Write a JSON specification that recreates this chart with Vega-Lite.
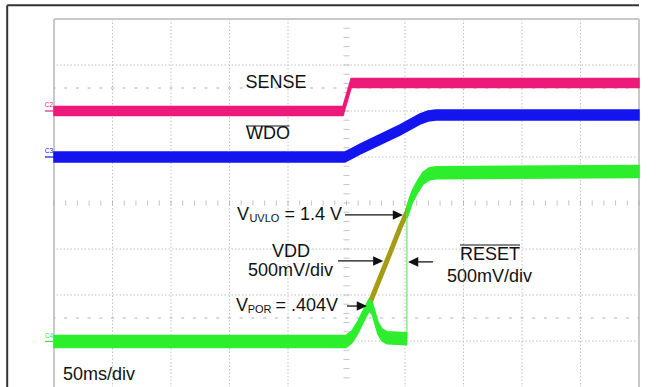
{
  "$schema": "https://vega.github.io/schema/vega-lite/v6.json",
  "width": 585,
  "height": 368,
  "autosize": {"type": "none"},
  "padding": {"left": 54, "top": 19, "right": 26, "bottom": 0},
  "background": "white",
  "config": {"view": {"stroke": null}, "text": {"font": "Liberation Sans"}},
  "datasets": {
    "frameH": [{"t": -290, "t2": 250, "v": 4.3}],
    "frameV": [{"t": -290, "v": 4.3, "v2": -4}],
    "borderV": [{"t": -250}, {"t": 250}],
    "borderH": [{"v": 4}],
    "vgrid": [{"t":-200},{"t":-150},{"t":-100},{"t":-50},{"t":50},{"t":100},{"t":150},{"t":200}],
    "hgrid": [{"v":-3},{"v":-2},{"v":-1},{"v":1},{"v":2},{"v":3}],
    "xticks": [{"t":-250},{"t":-240},{"t":-230},{"t":-220},{"t":-210},{"t":-200},{"t":-190},{"t":-180},{"t":-170},{"t":-160},{"t":-150},{"t":-140},{"t":-130},{"t":-120},{"t":-110},{"t":-100},{"t":-90},{"t":-80},{"t":-70},{"t":-60},{"t":-50},{"t":-40},{"t":-30},{"t":-20},{"t":-10},{"t":0},{"t":10},{"t":20},{"t":30},{"t":40},{"t":50},{"t":60},{"t":70},{"t":80},{"t":90},{"t":100},{"t":110},{"t":120},{"t":130},{"t":140},{"t":150},{"t":160},{"t":170},{"t":180},{"t":190},{"t":200},{"t":210},{"t":220},{"t":230},{"t":240},{"t":250}],
    "yticks": [{"v":-3.8},{"v":-3.6},{"v":-3.4},{"v":-3.2},{"v":-3},{"v":-2.8},{"v":-2.6},{"v":-2.4},{"v":-2.2},{"v":-2},{"v":-1.8},{"v":-1.6},{"v":-1.4},{"v":-1.2},{"v":-1},{"v":-0.8},{"v":-0.6},{"v":-0.4},{"v":-0.2},{"v":0},{"v":0.2},{"v":0.4},{"v":0.6},{"v":0.8},{"v":1},{"v":1.2},{"v":1.4},{"v":1.6},{"v":1.8},{"v":2},{"v":2.2},{"v":2.4},{"v":2.6},{"v":2.8},{"v":3},{"v":3.2},{"v":3.4},{"v":3.6},{"v":3.8}],
    "refs": [{"v": 2.5}, {"v": -2.5}],
    "sense": [{"t":-250,"v":2.0},{"t":-3,"v":2.0},{"t":4,"v":2.61},{"t":250,"v":2.61}],
    "wdo": [{"t":-250,"v":1.0},{"t":-1.3,"v":1.0},{"t":4.7,"v":1.08},{"t":11.5,"v":1.17},{"t":45.7,"v":1.587},{"t":62.8,"v":1.826},{"t":69.7,"v":1.89},{"t":76.5,"v":1.913},{"t":250,"v":1.913}],
    "vdd": [{"t":-250,"v":-3.01},{"t":-0.4,"v":-3.01},{"t":4.7,"v":-2.91},{"t":9.8,"v":-2.7},{"t":15.0,"v":-2.43},{"t":19.2,"v":-2.22},{"t":28.6,"v":-1.63},{"t":37.2,"v":-1.09},{"t":45.7,"v":-0.54},{"t":51.7,"v":-0.196},{"t":56.0,"v":0.13},{"t":61.1,"v":0.37},{"t":65.4,"v":0.54},{"t":70.5,"v":0.63},{"t":76.5,"v":0.66},{"t":250,"v":0.685}],
    "reset": [{"seg":1,"t":-250,"v":-3.01},{"seg":1,"t":-0.4,"v":-3.01},{"seg":1,"t":4.7,"v":-2.91},{"seg":1,"t":9.8,"v":-2.7},{"seg":1,"t":15.0,"v":-2.43},{"seg":1,"t":19.2,"v":-2.22},{"seg":1,"t":21.8,"v":-2.28},{"seg":1,"t":24.4,"v":-2.5},{"seg":1,"t":26.9,"v":-2.72},{"seg":1,"t":30.3,"v":-2.87},{"seg":1,"t":34.6,"v":-2.93},{"seg":1,"t":51.3,"v":-2.95},{"seg":2,"t":51.8,"v":-0.196},{"seg":2,"t":56.0,"v":0.13},{"seg":2,"t":61.1,"v":0.37},{"seg":2,"t":65.4,"v":0.54},{"seg":2,"t":70.5,"v":0.63},{"seg":2,"t":76.5,"v":0.66},{"seg":2,"t":250,"v":0.685}],
    "jump": [{"t": 51.6, "v": -2.95, "v2": -0.2}],
    "markers": [{"ch":"C2","t":-254.3,"v":2.14},{"ch":"C3","t":-254.3,"v":1.12},{"ch":"C4","t":-254.3,"v":-2.89}],
    "markerlines": [{"ch":"C2","t":-257.7,"t2":-250,"v":2.0},{"ch":"C3","t":-257.7,"t2":-250,"v":1.0},{"ch":"C4","t":-257.7,"t2":-250,"v":-3.01}],
    "shafts": [{"t":-1.3,"t2":40,"v":-0.26},{"t":-7.3,"t2":23,"v":-1.26},{"t":0.4,"t2":10,"v":-2.24},{"t":60,"t2":74,"v":-1.28}],
    "headsR": [{"t":48.3,"v":-0.26},{"t":31.5,"v":-1.26},{"t":17.5,"v":-2.24}],
    "headsL": [{"t":52.6,"v":-1.28}],
    "overlines": [{"t":-86,"t2":-48.7,"v":1.674},{"t":97,"t2":148.3,"v":-0.913}],
    "ctext": [{"label":"SENSE","t":-60.3,"v":2.61},{"label":"WDO","t":-67.1,"v":1.49},{"label":"VDD","t":-47.4,"v":-1.065},{"label":"500mV/div","t":-47.8,"v":-1.478},{"label":"RESET","t":122.6,"v":-1.13},{"label":"500mV/div","t":122.2,"v":-1.609}],
    "ltext": [{"label":"V","t":-93.6,"v":-0.26},{"label":"V","t":-94.4,"v":-2.24},{"label":"50ms/div","t":-242.3,"v":-3.74}],
    "subtext": [{"label":"UVLO","t":-83,"v":-0.35},{"label":"POR","t":-84.5,"v":-2.33}],
    "rtext": [{"label":"= 1.4 V","t":-3.8,"v":-0.26},{"label":"= .404V","t":-7.3,"v":-2.24}]
  },
  "layer": [
    {
      "data": {"name": "vgrid"},
      "mark": {"type": "rule", "color": "#c2c2c2", "strokeWidth": 1, "strokeDash": [1.5, 2]},
      "encoding": {"x": {"field": "t", "type": "quantitative", "scale": {"domain": [-250, 250], "nice": false, "zero": false}, "axis": null}}
    },
    {
      "data": {"name": "hgrid"},
      "mark": {"type": "rule", "color": "#c2c2c2", "strokeWidth": 1, "strokeDash": [1.5, 2]},
      "encoding": {"y": {"field": "v", "type": "quantitative", "scale": {"domain": [-4, 4], "nice": false, "zero": false}, "axis": null}}
    },
    {
      "data": {"name": "borderV"},
      "mark": {"type": "rule", "color": "#c9c9c9", "strokeWidth": 2},
      "encoding": {"x": {"field": "t", "type": "quantitative", "scale": {"domain": [-250, 250], "nice": false, "zero": false}, "axis": null}}
    },
    {
      "data": {"name": "borderH"},
      "mark": {"type": "rule", "color": "#c9c9c9", "strokeWidth": 2},
      "encoding": {"y": {"field": "v", "type": "quantitative", "scale": {"domain": [-4, 4], "nice": false, "zero": false}, "axis": null}}
    },
    {
      "data": {"name": "frameH"},
      "mark": {"type": "rule", "color": "#333333", "strokeWidth": 2, "clip": false},
      "encoding": {
        "x": {"field": "t", "type": "quantitative", "scale": {"domain": [-250, 250], "nice": false, "zero": false}, "axis": null},
        "x2": {"field": "t2"},
        "y": {"field": "v", "type": "quantitative", "scale": {"domain": [-4, 4], "nice": false, "zero": false}, "axis": null}
      }
    },
    {
      "data": {"name": "frameV"},
      "mark": {"type": "rule", "color": "#333333", "strokeWidth": 2, "clip": false},
      "encoding": {
        "x": {"field": "t", "type": "quantitative", "scale": {"domain": [-250, 250], "nice": false, "zero": false}, "axis": null},
        "y": {"field": "v", "type": "quantitative", "scale": {"domain": [-4, 4], "nice": false, "zero": false}, "axis": null},
        "y2": {"field": "v2"}
      }
    },
    {
      "data": {"name": "xticks"},
      "mark": {"type": "tick", "orient": "vertical", "size": 5, "thickness": 1, "color": "#aaaaaa"},
      "encoding": {
        "x": {"field": "t", "type": "quantitative", "scale": {"domain": [-250, 250], "nice": false, "zero": false}, "axis": null},
        "y": {"datum": 0, "type": "quantitative", "scale": {"domain": [-4, 4], "nice": false, "zero": false}, "axis": null}
      }
    },
    {
      "data": {"name": "yticks"},
      "mark": {"type": "tick", "orient": "horizontal", "size": 6, "thickness": 1, "color": "#aaaaaa"},
      "encoding": {
        "x": {"datum": 0, "type": "quantitative", "scale": {"domain": [-250, 250], "nice": false, "zero": false}, "axis": null},
        "y": {"field": "v", "type": "quantitative", "scale": {"domain": [-4, 4], "nice": false, "zero": false}, "axis": null}
      }
    },
    {
      "mark": {"type": "rule", "color": "#a8a8a8", "strokeWidth": 1},
      "encoding": {"x": {"datum": 0, "type": "quantitative", "scale": {"domain": [-250, 250], "nice": false, "zero": false}, "axis": null}}
    },
    {
      "mark": {"type": "rule", "color": "#a8a8a8", "strokeWidth": 1},
      "encoding": {"y": {"datum": 0, "type": "quantitative", "scale": {"domain": [-4, 4], "nice": false, "zero": false}, "axis": null}}
    },
    {
      "data": {"name": "refs"},
      "mark": {"type": "rule", "color": "#b0b0b0", "strokeWidth": 1, "strokeDash": [3, 8.7], "strokeDashOffset": -10.2},
      "encoding": {"y": {"field": "v", "type": "quantitative", "scale": {"domain": [-4, 4], "nice": false, "zero": false}, "axis": null}}
    },
    {
      "data": {"name": "vdd"},
      "mark": {"type": "line", "color": "#A69C14", "strokeWidth": 5},
      "encoding": {
        "x": {"field": "t", "type": "quantitative", "scale": {"domain": [-250, 250], "nice": false, "zero": false}, "axis": null},
        "y": {"field": "v", "type": "quantitative", "scale": {"domain": [-4, 4], "nice": false, "zero": false}, "axis": null}
      }
    },
    {
      "data": {"name": "sense"},
      "mark": {"type": "area", "color": "#EC1A78", "stroke": "#EC1A78", "strokeWidth": 1.5, "yOffset": -4.5, "y2Offset": 4.5},
      "encoding": {
        "x": {"field": "t", "type": "quantitative", "scale": {"domain": [-250, 250], "nice": false, "zero": false}, "axis": null},
        "y": {"field": "v", "type": "quantitative", "scale": {"domain": [-4, 4], "nice": false, "zero": false}, "axis": null},
        "y2": {"field": "v"}
      }
    },
    {
      "data": {"name": "wdo"},
      "mark": {"type": "area", "color": "#1414EE", "stroke": "#1414EE", "strokeWidth": 1.5, "yOffset": -5, "y2Offset": 5},
      "encoding": {
        "x": {"field": "t", "type": "quantitative", "scale": {"domain": [-250, 250], "nice": false, "zero": false}, "axis": null},
        "y": {"field": "v", "type": "quantitative", "scale": {"domain": [-4, 4], "nice": false, "zero": false}, "axis": null},
        "y2": {"field": "v"}
      }
    },
    {
      "data": {"name": "jump"},
      "mark": {"type": "rule", "color": "#8CE88C", "strokeWidth": 1.5},
      "encoding": {
        "x": {"field": "t", "type": "quantitative", "scale": {"domain": [-250, 250], "nice": false, "zero": false}, "axis": null},
        "y": {"field": "v", "type": "quantitative", "scale": {"domain": [-4, 4], "nice": false, "zero": false}, "axis": null},
        "y2": {"field": "v2"}
      }
    },
    {
      "data": {"name": "reset"},
      "mark": {"type": "area", "color": "#2DEE2D", "stroke": "#2DEE2D", "strokeWidth": 1.5, "yOffset": -6, "y2Offset": 6},
      "encoding": {
        "x": {"field": "t", "type": "quantitative", "scale": {"domain": [-250, 250], "nice": false, "zero": false}, "axis": null},
        "y": {"field": "v", "type": "quantitative", "scale": {"domain": [-4, 4], "nice": false, "zero": false}, "axis": null},
        "y2": {"field": "v"},
        "detail": {"field": "seg", "type": "nominal"}
      }
    },
    {
      "data": {"name": "markerlines"},
      "mark": {"type": "rule", "strokeWidth": 1.2, "clip": false},
      "encoding": {
        "x": {"field": "t", "type": "quantitative", "scale": {"domain": [-250, 250], "nice": false, "zero": false}, "axis": null},
        "x2": {"field": "t2"},
        "y": {"field": "v", "type": "quantitative", "scale": {"domain": [-4, 4], "nice": false, "zero": false}, "axis": null},
        "color": {"field": "ch", "type": "nominal", "scale": {"domain": ["C2", "C3", "C4"], "range": ["#EC1A78", "#1414EE", "#2DEE2D"]}, "legend": null}
      }
    },
    {
      "data": {"name": "markers"},
      "mark": {"type": "text", "fontSize": 6.5, "align": "center", "baseline": "middle", "clip": false},
      "encoding": {
        "x": {"field": "t", "type": "quantitative", "scale": {"domain": [-250, 250], "nice": false, "zero": false}, "axis": null},
        "y": {"field": "v", "type": "quantitative", "scale": {"domain": [-4, 4], "nice": false, "zero": false}, "axis": null},
        "text": {"field": "ch"},
        "color": {"field": "ch", "type": "nominal", "scale": {"domain": ["C2", "C3", "C4"], "range": ["#EC1A78", "#1414EE", "#2DEE2D"]}, "legend": null}
      }
    },
    {
      "data": {"name": "shafts"},
      "mark": {"type": "rule", "color": "#111111", "strokeWidth": 1.3},
      "encoding": {
        "x": {"field": "t", "type": "quantitative", "scale": {"domain": [-250, 250], "nice": false, "zero": false}, "axis": null},
        "x2": {"field": "t2"},
        "y": {"field": "v", "type": "quantitative", "scale": {"domain": [-4, 4], "nice": false, "zero": false}, "axis": null}
      }
    },
    {
      "data": {"name": "headsR"},
      "mark": {"type": "point", "shape": "M0,0L-3.4,-1.6L-3.4,1.6Z", "size": 36, "filled": true, "color": "#111111", "opacity": 1},
      "encoding": {
        "x": {"field": "t", "type": "quantitative", "scale": {"domain": [-250, 250], "nice": false, "zero": false}, "axis": null},
        "y": {"field": "v", "type": "quantitative", "scale": {"domain": [-4, 4], "nice": false, "zero": false}, "axis": null}
      }
    },
    {
      "data": {"name": "headsL"},
      "mark": {"type": "point", "shape": "M0,0L3.4,-1.6L3.4,1.6Z", "size": 36, "filled": true, "color": "#111111", "opacity": 1},
      "encoding": {
        "x": {"field": "t", "type": "quantitative", "scale": {"domain": [-250, 250], "nice": false, "zero": false}, "axis": null},
        "y": {"field": "v", "type": "quantitative", "scale": {"domain": [-4, 4], "nice": false, "zero": false}, "axis": null}
      }
    },
    {
      "data": {"name": "overlines"},
      "mark": {"type": "rule", "color": "#111111", "strokeWidth": 1.2},
      "encoding": {
        "x": {"field": "t", "type": "quantitative", "scale": {"domain": [-250, 250], "nice": false, "zero": false}, "axis": null},
        "x2": {"field": "t2"},
        "y": {"field": "v", "type": "quantitative", "scale": {"domain": [-4, 4], "nice": false, "zero": false}, "axis": null}
      }
    },
    {
      "data": {"name": "ctext"},
      "mark": {"type": "text", "fontSize": 18, "align": "center", "baseline": "middle", "color": "#111111"},
      "encoding": {
        "x": {"field": "t", "type": "quantitative", "scale": {"domain": [-250, 250], "nice": false, "zero": false}, "axis": null},
        "y": {"field": "v", "type": "quantitative", "scale": {"domain": [-4, 4], "nice": false, "zero": false}, "axis": null},
        "text": {"field": "label"}
      }
    },
    {
      "data": {"name": "ltext"},
      "mark": {"type": "text", "fontSize": 18, "align": "left", "baseline": "middle", "color": "#111111"},
      "encoding": {
        "x": {"field": "t", "type": "quantitative", "scale": {"domain": [-250, 250], "nice": false, "zero": false}, "axis": null},
        "y": {"field": "v", "type": "quantitative", "scale": {"domain": [-4, 4], "nice": false, "zero": false}, "axis": null},
        "text": {"field": "label"}
      }
    },
    {
      "data": {"name": "subtext"},
      "mark": {"type": "text", "fontSize": 11, "align": "left", "baseline": "middle", "color": "#111111"},
      "encoding": {
        "x": {"field": "t", "type": "quantitative", "scale": {"domain": [-250, 250], "nice": false, "zero": false}, "axis": null},
        "y": {"field": "v", "type": "quantitative", "scale": {"domain": [-4, 4], "nice": false, "zero": false}, "axis": null},
        "text": {"field": "label"}
      }
    },
    {
      "data": {"name": "rtext"},
      "mark": {"type": "text", "fontSize": 18, "align": "right", "baseline": "middle", "color": "#111111"},
      "encoding": {
        "x": {"field": "t", "type": "quantitative", "scale": {"domain": [-250, 250], "nice": false, "zero": false}, "axis": null},
        "y": {"field": "v", "type": "quantitative", "scale": {"domain": [-4, 4], "nice": false, "zero": false}, "axis": null},
        "text": {"field": "label"}
      }
    }
  ]
}
